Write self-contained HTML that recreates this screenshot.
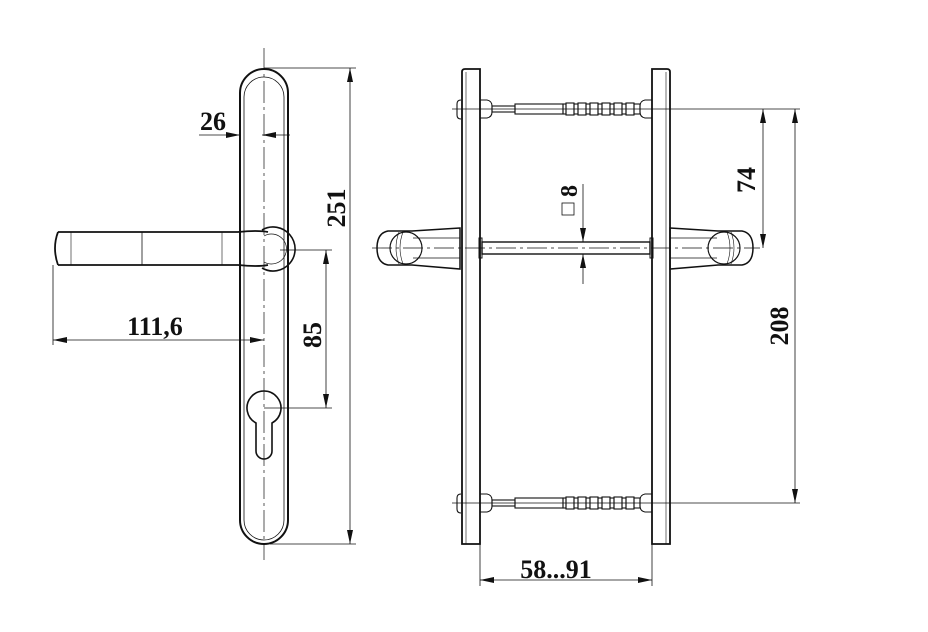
<!DOCTYPE html>
<html><head><meta charset="utf-8"><style>
html,body{margin:0;padding:0;background:#fff;width:928px;height:632px;overflow:hidden}
svg{display:block}
text{font-family:"Liberation Serif",serif;font-weight:bold;fill:#111}
</style></head><body>
<svg width="928" height="632" viewBox="0 0 928 632" xmlns="http://www.w3.org/2000/svg">
<defs>
<marker id="a" viewBox="0 0 14 6" refX="14" refY="3" markerWidth="14" markerHeight="6" orient="auto-start-reverse" markerUnits="userSpaceOnUse"><path d="M0,0 L14,3 L0,6 Z" fill="#111"/></marker>
<g id="bolt" fill="none" stroke="#111" stroke-width="1.1">
<path d="M461,-9 Q457,-9 457,-5 V6 Q457,10 461,10"/>
<path d="M480,-9 H487 Q492,-8 492,-3 V3 Q492,8 487,9 H480"/>
<path d="M652,-9 H645 Q640,-8 640,-3 V3 Q640,8 645,9 H652"/>
<rect x="492" y="-3" width="23" height="6"/>
<rect x="515" y="-5" width="48" height="10"/>
<rect x="563" y="-5" width="3" height="10"/>
<rect x="566" y="-6" width="8" height="12"/>
<rect x="574" y="-5" width="4" height="10"/>
<rect x="578" y="-6" width="8" height="12"/>
<rect x="586" y="-5" width="4" height="10"/>
<rect x="590" y="-6" width="8" height="12"/>
<rect x="598" y="-5" width="4" height="10"/>
<rect x="602" y="-6" width="8" height="12"/>
<rect x="610" y="-5" width="4" height="10"/>
<rect x="614" y="-6" width="8" height="12"/>
<rect x="622" y="-5" width="4" height="10"/>
<rect x="626" y="-6" width="8" height="12"/>
<rect x="634" y="-5" width="6" height="10"/>
</g>
</defs>
<g fill="none" stroke="#111">
<!-- LEFT VIEW -->
<path d="M240,93 A24,24 0 0 1 288,93 V520 A24,24 0 0 1 240,520 Z" stroke-width="2"/>
<path d="M244,97 A20,20 0 0 1 284,97 V520 A20,20 0 0 1 244,520 Z" stroke-width="0.8"/>
<line x1="264" y1="48" x2="264" y2="560" stroke-width="0.7" stroke-dasharray="22,4,3,4"/>
<path d="M58,232 H238 Q258,230 268,232 M58,265 H238 Q258,267 268,265" stroke-width="1.8"/>
<path d="M58,232 Q52,248 58,265" stroke-width="1.8"/>
<line x1="71" y1="232" x2="71" y2="265" stroke-width="0.6"/>
<line x1="142" y1="232" x2="142" y2="265" stroke-width="0.8"/>
<line x1="222" y1="232" x2="222" y2="265" stroke-width="0.6"/>
<path d="M262,230 A22,22 0 1 1 262,268" stroke-width="1.6"/>
<path d="M264,236 A15,15 0 1 1 264,262" stroke-width="0.7"/>
<path d="M256,423 A17,17 0 1 1 272,423 V451 A8,8 0 0 1 256,451 Z" stroke-width="1.6"/>
<g stroke-width="0.8">
<line x1="264" y1="68" x2="356" y2="68"/>
<line x1="270" y1="544" x2="356" y2="544"/>
<line x1="350" y1="68" x2="350" y2="544" marker-start="url(#a)" marker-end="url(#a)"/>
<line x1="199" y1="135" x2="240" y2="135" marker-end="url(#a)"/>
<line x1="290" y1="135" x2="262" y2="135" marker-end="url(#a)"/>
<line x1="53" y1="265" x2="53" y2="345"/>
<line x1="53" y1="340" x2="264" y2="340" marker-start="url(#a)" marker-end="url(#a)"/>
<line x1="280" y1="250" x2="332" y2="250"/>
<line x1="264" y1="408" x2="332" y2="408"/>
<line x1="326" y1="250" x2="326" y2="408" marker-start="url(#a)" marker-end="url(#a)"/>
</g>
<!-- RIGHT VIEW -->
<path d="M462,544 V72 Q462,69 465,69 H480 V544 Z" stroke-width="1.8"/>
<line x1="466" y1="72" x2="466" y2="544" stroke-width="0.6"/>
<path d="M652,544 V69 H667 Q670,69 670,72 V544 Z" stroke-width="1.8"/>
<line x1="666" y1="72" x2="666" y2="544" stroke-width="0.6"/>
<line x1="452" y1="109" x2="800" y2="109" stroke-width="0.7"/>
<line x1="452" y1="503" x2="800" y2="503" stroke-width="0.7"/>
<rect x="482" y="242" width="168" height="12" stroke-width="1.4"/>
<rect x="479" y="238" width="3" height="20" stroke-width="1"/>
<rect x="650" y="238" width="3" height="20" stroke-width="1"/>
<line x1="372" y1="248" x2="760" y2="248" stroke-width="0.7" stroke-dasharray="20,4,3,4"/>
<path d="M460,228 L412,231 H388 Q377,233 377,248 Q377,263 388,265 H412 L460,269 Z" stroke-width="1.5"/>
<ellipse cx="406" cy="248" rx="16" ry="16" stroke-width="1.2"/>
<path d="M399,232 Q393,248 399,264 M403,232 Q397,248 403,264" stroke-width="0.6"/>
<line x1="413" y1="238" x2="460" y2="238" stroke-width="0.8"/>
<line x1="413" y1="258" x2="460" y2="258" stroke-width="0.8"/>
<path d="M670,228 L718,231 H742 Q753,233 753,248 Q753,263 742,265 H718 L670,269 Z" stroke-width="1.5"/>
<ellipse cx="724" cy="248" rx="16" ry="16" stroke-width="1.2"/>
<path d="M731,232 Q737,248 731,264 M727,232 Q733,248 727,264" stroke-width="0.6"/>
<line x1="670" y1="238" x2="717" y2="238" stroke-width="0.8"/>
<line x1="670" y1="258" x2="717" y2="258" stroke-width="0.8"/>
<g stroke-width="0.8">
<line x1="763" y1="109" x2="763" y2="248" marker-start="url(#a)" marker-end="url(#a)"/>
<line x1="795" y1="109" x2="795" y2="503" marker-start="url(#a)" marker-end="url(#a)"/>
<line x1="583" y1="184" x2="583" y2="242" marker-end="url(#a)"/>
<line x1="583" y1="284" x2="583" y2="254" marker-end="url(#a)"/>
<line x1="480" y1="544" x2="480" y2="586"/>
<line x1="652" y1="544" x2="652" y2="586"/>
<line x1="480" y1="580" x2="652" y2="580" marker-start="url(#a)" marker-end="url(#a)"/>
</g>
<rect x="562" y="203" width="12" height="12" stroke-width="0.8"/>
</g>
<use href="#bolt" transform="translate(0,109)"/>
<use href="#bolt" transform="translate(0,503)"/>
<text x="213" y="130" font-size="26" text-anchor="middle">26</text>
<text x="155" y="335" font-size="26" text-anchor="middle">111,6</text>
<text transform="translate(345,208) rotate(-90)" font-size="26" text-anchor="middle">251</text>
<text transform="translate(321,335) rotate(-90)" font-size="26" text-anchor="middle">85</text>
<text transform="translate(755,180) rotate(-90)" font-size="26" text-anchor="middle">74</text>
<text transform="translate(788,326) rotate(-90)" font-size="26" text-anchor="middle">208</text>
<text transform="translate(577,191) rotate(-90)" font-size="24" text-anchor="middle">8</text>
<text x="556" y="578" font-size="26" text-anchor="middle">58...91</text>
</svg>
</body></html>
